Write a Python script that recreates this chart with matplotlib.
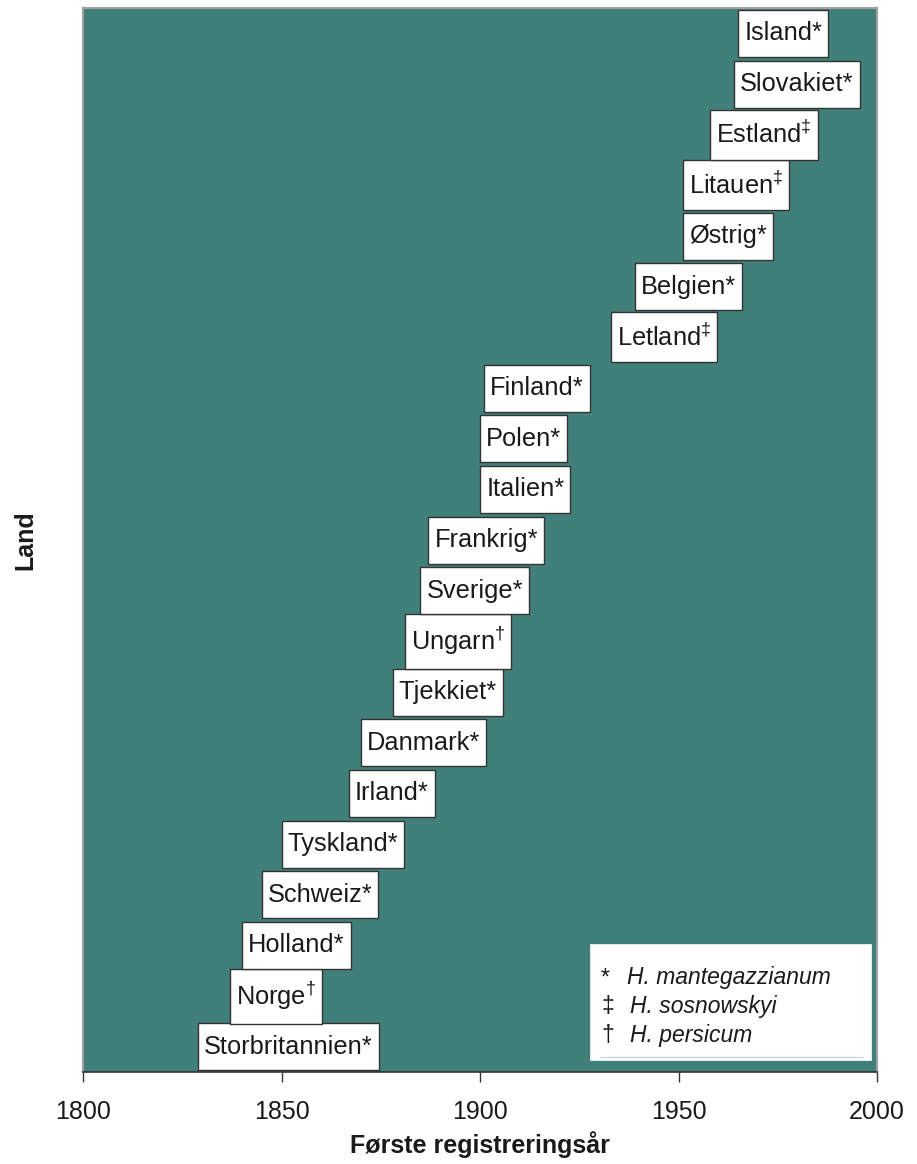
import matplotlib
matplotlib.use("Agg")
import matplotlib.pyplot as plt
from matplotlib.path import Path
from matplotlib.patches import Rectangle
from matplotlib.lines import Line2D

plt.rcParams['font.family'] = ['Liberation Sans', 'DejaVu Sans']
plt.rcParams['mathtext.fontset'] = 'custom'
plt.rcParams['mathtext.rm'] = 'Liberation Sans'
plt.rcParams['mathtext.it'] = 'Liberation Sans:italic'
plt.rcParams['mathtext.bf'] = 'Liberation Sans:bold'

# ---- data (bottom to top) ----
countries = ["Storbritannien", "Norge", "Holland", "Schweiz", "Tyskland", "Irland",
             "Danmark", "Tjekkiet", "Ungarn", "Sverige", "Frankrig", "Italien",
             "Polen", "Finland", "Letland", "Belgien", "Østrig", "Litauen",
             "Estland", "Slovakiet", "Island"]
years = [1829, 1837, 1840, 1845, 1850, 1867, 1870, 1878, 1881, 1885, 1887, 1900,
         1900, 1901, 1933, 1939, 1951, 1951, 1958, 1964, 1965]
species = ["*", "†", "*", "*", "*", "*", "*", "*", "†", "*", "*", "*",
           "*", "*", "‡", "*", "*", "‡", "‡", "*", "*"]
legend_symbols = ["*", "‡", "†"]
legend_names = ["H. mantegazzianum", "H. sosnowskyi", "H. persicum"]
xticks = [1800, 1850, 1900, 1950, 2000]

TEAL = "#41807a"

def label_box(x0, y0, width, height, mutation_size):
    padx = 0.24 * mutation_size
    pady = 0.45 * mutation_size
    x0 -= padx
    y0 -= pady
    x1 = x0 + width + 2 * padx
    y1 = y0 + height + 2 * pady
    return Path([(x0, y0), (x1, y0), (x1, y1), (x0, y1), (x0, y0)],
                [Path.MOVETO, Path.LINETO, Path.LINETO, Path.LINETO, Path.CLOSEPOLY])

fig = plt.figure(figsize=(9.17, 11.64), dpi=100)
ax = fig.add_axes([0.0905, 0.079, 0.866, 0.914])
ax.set_facecolor(TEAL)
ax.set_xlim(1800, 2000)
ax.set_ylim(0.5, len(countries) + 0.5)

FS = 18.3
for i, (c, yr, sp) in enumerate(zip(countries, years, species)):
    if sp == "*":
        txt = c + "*"
    elif sp == "‡":
        txt = c + r"$^{\ddag}$"
    else:
        txt = c + r"$^{\dag}$"
    ax.annotate(txt, xy=(yr, i + 1), xytext=(0.24 * FS, 0), textcoords="offset points",
                ha="left", va="center", fontsize=FS, color="#1a1a1a",
                bbox=dict(boxstyle=label_box, fc="white", ec="#333333", lw=1.0),
                annotation_clip=False)

# legend box
ax.add_patch(Rectangle((0.6385, 0.0113), 0.354, 0.109, transform=ax.transAxes,
                       fc="white", ec="white", lw=0.5, zorder=5))
ax.add_line(Line2D([0.652, 0.981], [0.0141, 0.0141], transform=ax.transAxes,
                   color="#c6d6d4", lw=1.0, zorder=6))
base_ys = [0.0827, 0.0555, 0.0282]
sym_xs = [0.657, 0.661, 0.661]
name_xs = [0.6848, 0.6889, 0.6889]
for s, n, yb, sx, nx in zip(legend_symbols, legend_names, base_ys, sym_xs, name_xs):
    ax.text(sx, yb, s, transform=ax.transAxes, ha="center", va="baseline",
            fontsize=16.5, color="#1a1a1a", zorder=7)
    ax.text(nx, yb, n, transform=ax.transAxes, ha="left", va="baseline",
            fontsize=16.5, style="italic", color="#1a1a1a", zorder=7)

# axes styling
ax.set_xticks(xticks)
ax.set_xticklabels([str(t) for t in xticks])
ax.set_yticks([])
ax.tick_params(axis="x", direction="out", length=7, width=1, color="#333333",
               labelsize=18, labelcolor="#1a1a1a", pad=13)
for side in ["top", "right", "left"]:
    ax.spines[side].set_color("#a0a0a0")
    ax.spines[side].set_linewidth(1.5)
ax.spines["bottom"].set_color("#333333")
ax.spines["bottom"].set_linewidth(1.2)

ax.set_xlabel("Første registreringsår", fontsize=18, fontweight="bold", color="#1a1a1a",
              labelpad=5)
ax.set_ylabel("Land", fontsize=18, fontweight="bold", color="#1a1a1a", labelpad=33)

fig.savefig("out.png", dpi=100, facecolor="white")
